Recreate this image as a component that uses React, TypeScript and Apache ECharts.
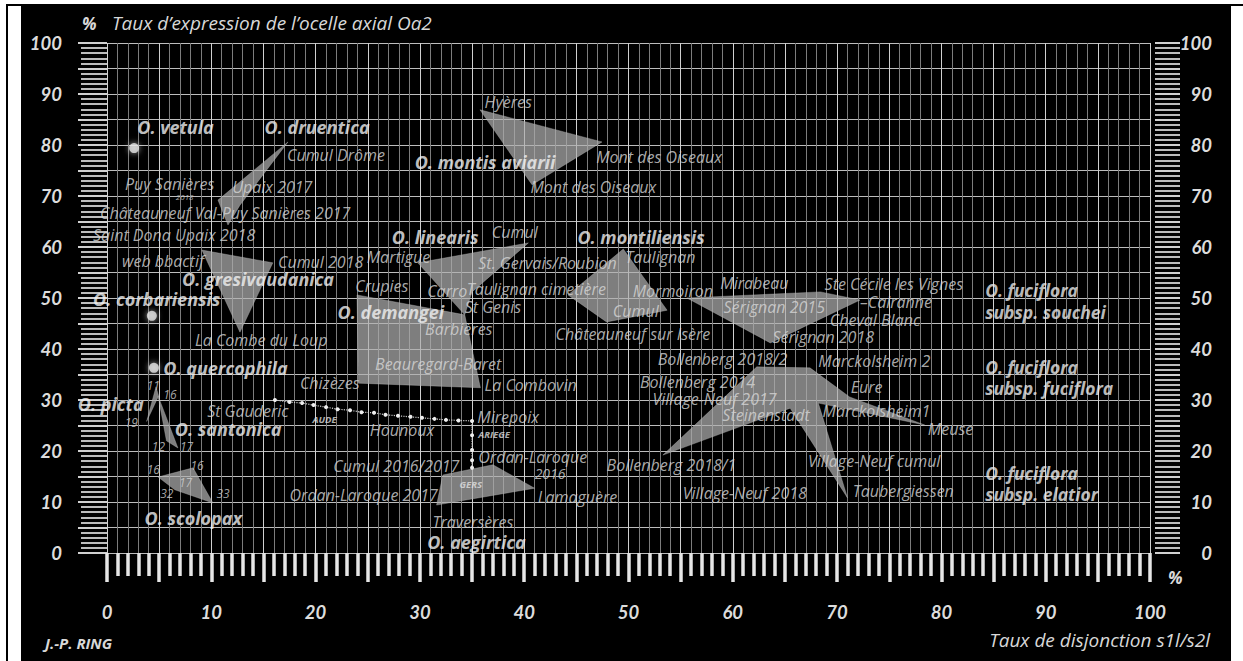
import React, { useEffect, useRef } from "react";
import * as echarts from "echarts";

const FONT = "'Open Sans', Lato, sans-serif";
const AXIS_FONT = "Lato, 'Open Sans', sans-serif";

// Polygons (population envelopes) — [taux de disjonction %, taux d'expression %]
const druentica = [[17.35, 80.6], [10.64, 69.2], [11.6, 64.3], [12.75, 68.2]];
const montisAviarii = [[35.76, 86.9], [47.46, 80.6], [40.75, 72.2]];
const gresivaudanica = [[9.1, 59.4], [15.9, 56.9], [12.75, 43.3]];
const picta = [[4.7, 32.6], [4.95, 30.8], [3.8, 25.8]];
const santonica = [[4.9, 30.8], [5.7, 22.0], [6.8, 20.6]];
const scolopax = [[4.9, 14.9], [8.25, 16.7], [10.16, 9.8], [6.5, 12.4]];
const linearis = [[29.8, 56.9], [40.4, 60.8], [35.0, 51.2], [34.3, 46.7]];
const demangei = [[23.97, 50.6], [34.3, 46.7], [35.8, 32.4], [24.1, 33.3]];
const aegirtica = [[31.6, 9.4], [32.2, 15.3], [37.0, 17.3], [41.0, 12.7]];
const montiliensis = [[49.5, 59.6], [44.2, 50.6], [47.9, 45.3], [53.7, 47.6]];
const souchei = [[55.6, 50.0], [68.4, 51.2], [72.2, 49.6], [63.6, 41.2]];
const fuciflora = [
  [53.3, 19.2], [62.3, 36.5], [67.4, 36.3], [71.2, 30.6],
  [78.4, 25.1], [68.2, 29.4], [71.0, 10.8], [65.5, 28.4],
];

const polygonList: [string, number[][]][] = [
  ["druentica", druentica],
  ["montis aviarii", montisAviarii],
  ["gresivaudanica", gresivaudanica],
  ["picta", picta],
  ["santonica", santonica],
  ["scolopax", scolopax],
  ["linearis", linearis],
  ["demangei", demangei],
  ["aegirtica", aegirtica],
  ["montiliensis", montiliensis],
  ["souchei", souchei],
  ["fuciflora", fuciflora],
];

// Single populations
const singlePoints = [[2.6, 79.4], [4.3, 46.5], [4.5, 36.3]];

// Aude / Ariège / Gers chain
const chainPoints = [
  [16.1, 30.0], [17.5, 29.6], [18.7, 29.4], [19.8, 29.0], [21.0, 28.6],
  [22.1, 28.2], [23.3, 28.0], [24.4, 27.6], [25.6, 27.5], [26.7, 27.1],
  [27.9, 26.9], [29.1, 26.7], [30.2, 26.5], [31.4, 26.3], [32.5, 26.1],
  [33.7, 26.0], [35.0, 25.9], [35.0, 23.1], [35.0, 20.2], [35.0, 18.2],
  [35.0, 16.7],
];

// Labels: [text, x, y]
const siteLabels: [string, number, number][] = [
  ["Cumul Drôme", 17.26, 78.0],
  ["Puy Sanières", 1.73, 72.4],
  ["Upaix 2017", 12.0, 71.8],
  ["Châteauneuf Val-Puy Sanières 2017", -0.67, 66.7],
  ["Saint Dona Upaix 2018", -1.34, 62.4],
  ["web bbactif", 1.44, 57.3],
  ["Cumul 2018", 16.4, 57.0],
  ["La Combe du Loup", 8.44, 41.8],
  ["Hyères", 36.2, 88.4],
  ["Mont des Oiseaux", 46.9, 77.6],
  ["Mont des Oiseaux", 40.6, 71.8],
  ["Cumul", 36.9, 62.9],
  ["Martigue", 24.9, 58.0],
  ["St. Gervais/Roubion", 35.6, 56.9],
  ["Carro", 30.7, 51.4],
  ["Taulignan cimetière", 34.5, 51.8],
  ["St Genis", 34.3, 48.2],
  ["Barbières", 30.5, 43.9],
  ["Crupies", 23.8, 52.3],
  ["Beauregard-Baret", 25.7, 37.1],
  ["Chizèzes", 18.5, 33.3],
  ["La Combovin", 36.2, 32.9],
  ["St Gauderic", 9.6, 27.8],
  ["Hounoux", 25.2, 24.1],
  ["Mirepoix", 35.5, 26.7],
  ["Ordan-Laroque", 35.6, 18.9],
  ["Cumul 2016/2017", 21.7, 17.1],
  ["Ordan-Laroque 2017", 17.5, 11.4],
  ["Lamaguère", 41.3, 10.9],
  ["Traversères", 31.2, 6.1],
  ["Taulignan", 49.7, 58.0],
  ["Mormoiron", 50.4, 51.4],
  ["Cumul", 48.5, 47.5],
  ["Châteauneuf sur Isère", 43.0, 42.9],
  ["Mirabeau", 58.8, 53.0],
  ["Ste Cécile les Vignes", 68.8, 52.7],
  ["Sérignan 2015", 59.1, 48.2],
  ["–Cairanne", 72.2, 49.2],
  ["Cheval Blanc", 69.3, 45.7],
  ["Sérignan 2018", 63.8, 42.4],
  ["Bollenberg 2018/2", 52.8, 38.0],
  ["Marckolsheim 2", 68.2, 37.6],
  ["Bollenberg 2014", 51.1, 33.5],
  ["Eure", 71.3, 32.5],
  ["Village-Neuf 2017", 52.3, 30.1],
  ["Steinenstadt", 59.0, 27.1],
  ["Marckolsheim1", 68.6, 27.8],
  ["Meuse", 78.7, 24.3],
  ["Bollenberg 2018/1", 47.9, 17.3],
  ["Village-Neuf cumul", 67.2, 18.0],
  ["Village-Neuf 2018", 55.2, 11.8],
  ["Taubergiessen", 71.5, 12.2],
];

const mediumLabels: [string, number, number][] = [["2016", 41.0, 15.6]];

const smallLabels: [string, number, number][] = [
  ["11", 3.8, 32.9],
  ["16", 5.4, 31.0],
  ["19", 1.7, 25.5],
  ["12", 4.3, 20.8],
  ["17", 7.0, 20.8],
  ["16", 3.8, 16.3],
  ["16", 8.0, 17.1],
  ["17", 6.9, 13.9],
  ["32", 5.1, 11.6],
  ["33", 10.5, 11.6],
];

const tinyLabels: [string, number, number][] = [["2018", 6.6, 69.9]];

const regionLabels: [string, number, number][] = [
  ["AUDE", 19.7, 26.1],
  ["ARIEGE", 35.6, 23.3],
  ["GERS", 33.8, 13.5],
];

const speciesLabels: [string, number, number][] = [
  ["O. vetula", 2.9, 83.5],
  ["O. druentica", 15.1, 83.5],
  ["O. montis aviarii", 29.5, 76.7],
  ["O. gresivaudanica", 7.2, 53.7],
  ["O. corbariensis", -1.34, 49.8],
  ["O. linearis", 27.3, 62.0],
  ["O. montiliensis", 45.1, 62.0],
  ["O. demangei", 22.1, 47.3],
  ["O. quercophila", 5.4, 36.3],
  ["O. picta", -2.8, 29.2],
  ["O. santonica", 6.5, 24.3],
  ["O. scolopax", 3.6, 6.9],
  ["O. aegirtica", 30.7, 2.2],
];

const fucifloraLabels: [string, number, number][] = [
  ["O. fuciflora", 84.2, 51.6],
  ["subsp. souchei", 84.2, 47.3],
  ["O. fuciflora", 84.2, 36.5],
  ["subsp. fuciflora", 84.2, 32.4],
  ["O. fuciflora", 84.2, 15.7],
  ["subsp. elatior", 84.2, 11.6],
];

const labelSeries = (
  list: [string, number, number][],
  size: number,
  weight: string,
  color: string
) => ({
  type: "scatter",
  symbolSize: 0,
  clip: false,
  silent: true,
  z: 5,
  data: list.map(([n, x, y]) => ({ name: n, value: [x, y] })),
  label: {
    show: true,
    position: "right",
    distance: 0,
    formatter: "{b}",
    color,
    fontSize: size,
    lineHeight: Math.round(size * 1.05),
    fontWeight: weight,
    fontStyle: "italic",
    fontFamily: FONT,
  },
});

const tens = (v: number) => (v % 10 === 0 ? String(v) : "");

export default function App() {
  const ref = useRef<HTMLDivElement>(null);
  useEffect(() => {
    if (!ref.current) return;
    const chart = echarts.init(ref.current, null, { renderer: "svg" });
    const axisLabel = {
      formatter: tens,
      color: "#dcdcdc",
      fontSize: 18.5,
      fontStyle: "italic",
      fontWeight: "bold",
      fontFamily: AXIS_FONT,
    };
    const polySeries = polygonList.map(([name, pts]) => ({
      type: "custom",
      name,
      data: pts,
      z: 3,
      silent: true,
      encode: { x: 0, y: 1 },
      renderItem: (params: any, api: any) => {
        if (params.dataIndex !== 0) return null;
        const points = pts.map((p) => api.coord(p));
        return {
          type: "polygon",
          shape: { points },
          style: { fill: "rgba(175,175,175,0.72)", stroke: "rgba(190,190,190,0.6)", lineWidth: 0.6 },
        };
      },
    }));
    const textStyle = { fill: "#d8d8d8", fontSize: 19, fontStyle: "italic", fontFamily: FONT, verticalAlign: "middle" };
    chart.setOption({
      animation: false,
      backgroundColor: "#000",
      grid: { left: 86, right: 81, top: 38, bottom: 108, containLabel: false },
      xAxis: [
        {
          type: "value",
          min: 0,
          max: 100,
          interval: 5,
          position: "bottom",
          offset: 12,
          axisLine: { show: false },
          axisTick: { show: true, length: 29, lineStyle: { color: "#e6e6e6", width: 3.5 } },
          minorTick: { show: true, splitNumber: 5, length: 23, lineStyle: { color: "#e6e6e6", width: 3.5 } },
          splitLine: { show: true, lineStyle: { color: "#d0d0d0", width: 1 } },
          minorSplitLine: { show: true, lineStyle: { color: "#7c7c7c", width: 1 } },
          axisLabel: { ...axisLabel, margin: 37 },
        },
      ],
      yAxis: [
        {
          type: "value",
          min: 0,
          max: 100,
          interval: 5,
          position: "left",
          offset: 7,
          axisLine: { show: false },
          axisTick: { show: true, length: 29, lineStyle: { color: "#d0d0d0", width: 2 } },
          minorTick: { show: true, splitNumber: 5, length: 26, lineStyle: { color: "#bcbcbc", width: 2 } },
          splitLine: { show: true, lineStyle: { color: "#bdbdbd", width: 1 } },
          axisLabel: { ...axisLabel, margin: 38 },
        },
        {
          type: "value",
          min: 0,
          max: 100,
          interval: 5,
          position: "right",
          offset: 5,
          axisLine: { show: false },
          axisTick: { show: true, length: 25, lineStyle: { color: "#d0d0d0", width: 2 } },
          minorTick: { show: true, splitNumber: 5, length: 25, lineStyle: { color: "#bcbcbc", width: 2 } },
          splitLine: { show: false },
          axisLabel: { ...axisLabel, margin: 57, align: "right" },
        },
      ],
      graphic: [
        { type: "text", style: { ...textStyle, text: "%", x: 61, y: 18, fontSize: 17, fontWeight: "bold" } },
        { type: "text", style: { ...textStyle, text: "Taux d’expression de l’ocelle axial Oa2", x: 91, y: 18 } },
        { type: "text", style: { ...textStyle, text: "%", x: 1147, y: 572, fontSize: 17, fontWeight: "bold" } },
        { type: "text", style: { ...textStyle, text: "Taux de disjonction s1l/s2l", x: 1189, y: 635, align: "right" } },
        { type: "text", style: { ...textStyle, text: "J.-P. RING", x: 24, y: 638, fontSize: 15, fontWeight: "bold" } },
      ],
      series: [
        ...polySeries,
        {
          type: "line",
          data: chainPoints,
          z: 4,
          silent: true,
          symbol: "circle",
          symbolSize: 4,
          showSymbol: true,
          itemStyle: { color: "#eeeeee" },
          lineStyle: { color: "#cccccc", width: 1.2, type: "dotted" },
        },
        {
          type: "scatter",
          data: singlePoints,
          z: 4,
          silent: true,
          symbolSize: 10,
          itemStyle: { color: "#e6e6e6", shadowBlur: 6, shadowColor: "rgba(255,255,255,0.8)" },
        },
        labelSeries(siteLabels, 16, "normal", "#d6d6d6"),
        labelSeries(mediumLabels, 14, "normal", "#d6d6d6"),
        labelSeries(smallLabels, 12, "normal", "#cfcfcf"),
        labelSeries(tinyLabels, 8, "normal", "#cfcfcf"),
        labelSeries(regionLabels, 9.5, "bold", "#e0e0e0"),
        labelSeries(speciesLabels, 18, "bold", "#f2f2f2"),
        labelSeries(fucifloraLabels, 17.5, "bold", "#ededed"),
      ],
    });
    return () => chart.dispose();
  }, []);

  return (
    <div style={{ position: "fixed", left: 0, top: 0, width: 1243, height: 661, background: "#fff" }}>
      <div style={{ position: "absolute", left: 6, top: 5, width: 2, height: 656, background: "#000" }} />
      <div style={{ position: "absolute", left: 6, top: 4, width: 1237, height: 2, background: "#000" }} />
      <div ref={ref} style={{ position: "absolute", left: 21, top: 5, width: 1210, height: 656 }} />
    </div>
  );
}
